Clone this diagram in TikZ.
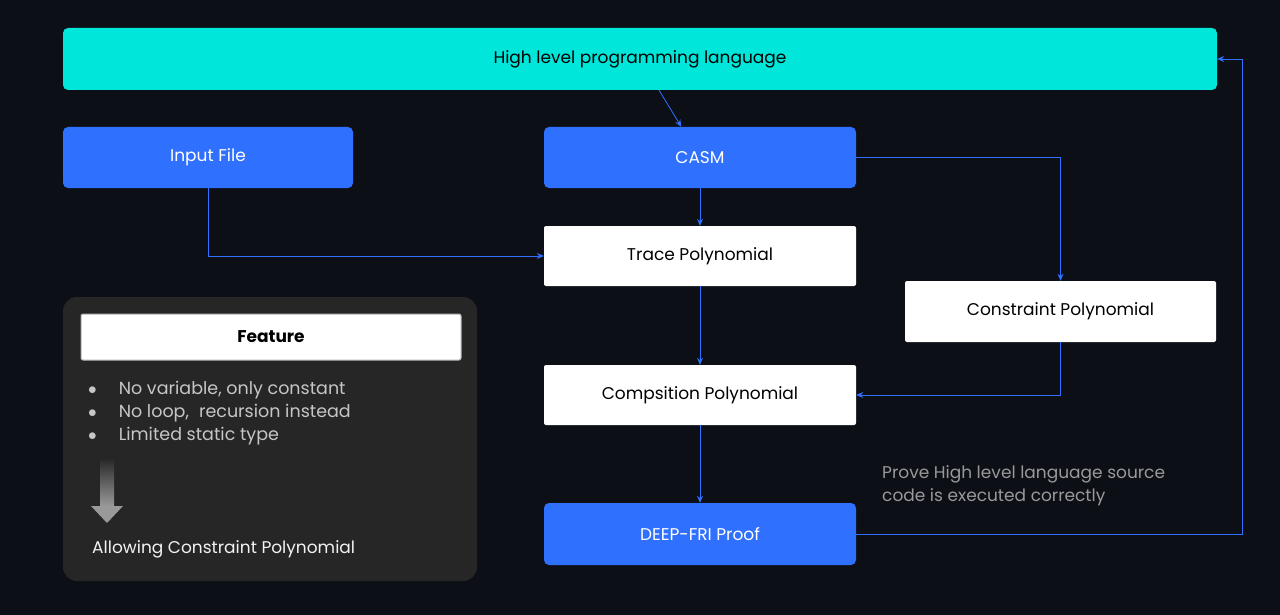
\documentclass[tikz,border=0pt]{standalone}
\usepackage{fontspec}
\setmainfont{Poppins}
\begin{document}
\begin{tikzpicture}[x=1pt,y=-1pt,
  box/.style={draw=none,rounded corners=5pt,minimum height=61pt,inner sep=0pt,font=\fontsize{17}{20}\selectfont},
  bluebox/.style={box,fill=blueC,text=white},
  whitebox/.style={box,fill=white,text=black,rounded corners=2pt},
  arr/.style={draw=blueC,line width=0.8pt,-{Stealth[length=7pt,width=6pt]}}]
\definecolor{bgC}{HTML}{0C0F16}
\definecolor{blueC}{HTML}{3070FF}
\definecolor{cyanC}{HTML}{00E6DA}
\definecolor{panelC}{HTML}{262626}
\usetikzlibrary{arrows.meta}
\fill[bgC] (0,0) rectangle (1280,615);
\useasboundingbox (0,0) rectangle (1280,615);
\node[box,fill=cyanC,text=black,minimum width=1154pt,minimum height=62pt] (top) at (640,59) {High level programming language};
\node[bluebox,minimum width=290pt] (inp) at (208,157.5) {Input File};
\node[bluebox,minimum width=312pt] (casm) at (700,157.5) {CASM};
\node[whitebox,minimum width=312pt,minimum height=60pt] (trace) at (700,256) {Trace Polynomial};
\node[whitebox,minimum width=311pt] (cons) at (1060.5,311.5) {Constraint Polynomial};
\node[whitebox,minimum width=312pt,minimum height=60pt] (comp) at (700,395) {Compsition Polynomial};
\node[bluebox,minimum width=312pt,minimum height=62pt] (deep) at (700,534) {DEEP-FRI Proof};
\draw[arr] (top) -- (casm);
\draw[arr] (casm) -- (trace);
\draw[arr] (trace) -- (comp);
\draw[arr] (comp) -- (deep);
\draw[arr] (inp.south) |- (trace.west);
\draw[arr] (casm.east) -| (cons.north);
\draw[arr] (cons.south) |- (comp.east);
\coordinate (rt) at (1242,59);
\draw[arr] (deep.east) -| (rt) -- (top.east);
\node[anchor=west,text=gray!80,font=\fontsize{17}{23}\selectfont,align=left,inner sep=0pt] (note) at (882,486) {Prove High level language source\\code is executed correctly};
% panel
\node[fill=panelC,rounded corners=14pt,minimum width=414pt,minimum height=284pt,inner sep=0pt] (panel) at (270,439) {};
\node[fill=white,draw=gray!60,line width=1pt,rounded corners=2pt,minimum width=380pt,minimum height=46pt,inner sep=0pt,font=\fontsize{17}{20}\selectfont\bfseries] (feat) at (271,337) {Feature};
\node[anchor=north west,text=gray!45,font=\fontsize{17.5}{23}\selectfont,align=left,inner sep=0pt] (list) at (88,381) {$\bullet$\hspace{22pt}No variable, only constant\\$\bullet$\hspace{22pt}No loop,\hspace{10pt}recursion instead\\$\bullet$\hspace{22pt}Limited static type};
\shade[top color=panelC,bottom color=gray!80] (100,458) rectangle (114,506);
\fill[gray!80] (91,506) -- (123,506) -- (107,523) -- cycle;
\node[anchor=west,text=white!90!gray,font=\fontsize{17}{20}\selectfont,inner sep=0pt] (allow) at (92,549) {Allowing Constraint Polynomial};
\end{tikzpicture}
\end{document}
